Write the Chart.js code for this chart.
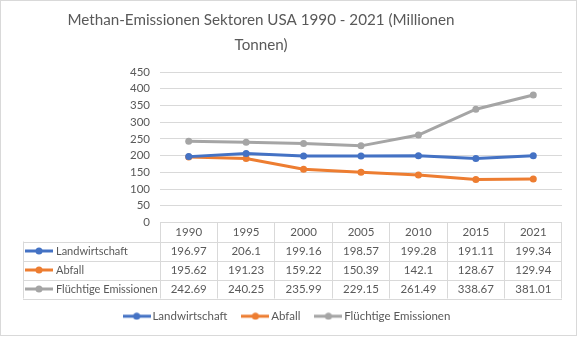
<!DOCTYPE html>
<html lang="de">
<head>
<meta charset="UTF-8">
<title>Methan-Emissionen Sektoren USA 1990 - 2021</title>
<script src="https://cdn.jsdelivr.net/npm/chart.js"></script>
<style>
    body {
        margin: 0;
        background-color: #fff;
    }
</style>
</head>
<body>
<canvas id="methanChart" width="577" height="340"></canvas>
<script>
    const years = ['1990', '1995', '2000', '2005', '2010', '2015', '2021'];
    const landwirtschaft = [196.97, 206.1, 199.16, 198.57, 199.28, 191.11, 199.34];
    const abfall = [195.62, 191.23, 159.22, 150.39, 142.1, 128.67, 129.94];
    const fluechtige = [242.69, 240.25, 235.99, 229.15, 261.49, 338.67, 381.01];
    const seriesNames = ['Landwirtschaft', 'Abfall', 'Flüchtige Emissionen'];
    const seriesColors = ['#4472C4', '#ED7D31', '#A5A5A5'];
    const titleLines = ['Methan-Emissionen Sektoren USA 1990 - 2021 (Millionen', 'Tonnen)'];

    const textColor = '#595959';
    const lineColor = '#d9d9d9';
    const numberFont = '11.5px Lato';
    const nameFont = '11px Lato';
    const seriesValues = [landwirtschaft, abfall, fluechtige];

    // small "line with dot" symbol used in the legend and the table
    function lineMarker(color) {
        const c = document.createElement('canvas');
        c.width = 28;
        c.height = 8;
        const g = c.getContext('2d');
        g.strokeStyle = color;
        g.lineWidth = 3;
        g.beginPath();
        g.moveTo(0, 4);
        g.lineTo(28, 4);
        g.stroke();
        g.fillStyle = color;
        g.beginPath();
        g.arc(14, 4, 3.5, 0, Math.PI * 2);
        g.fill();
        return c;
    }
    const markers = seriesColors.map(lineMarker);

    // title, outer frame and the data table under the x axis
    const tablePlugin = {
        id: 'dataTable',
        afterDraw(chart) {
            const { ctx, chartArea, scales: { x } } = chart;
            const top = chartArea.bottom;
            const rowH = 19;
            const labelLeft = 23;
            ctx.save();

            ctx.strokeStyle = lineColor;
            ctx.lineWidth = 1;
            for (let r = 1; r <= 4; r++) {
                const y = Math.round(top + r * rowH) + 0.5;
                ctx.beginPath();
                ctx.moveTo(labelLeft, y);
                ctx.lineTo(chartArea.right, y);
                ctx.stroke();
            }
            ctx.beginPath();
            ctx.moveTo(labelLeft + 0.5, top + rowH);
            ctx.lineTo(labelLeft + 0.5, top + 4 * rowH);
            ctx.stroke();
            ctx.strokeRect(0.5, 0.5, chart.width - 1, 335);

            ctx.fillStyle = textColor;
            ctx.textBaseline = 'middle';
            ctx.font = numberFont;
            ctx.textAlign = 'center';
            years.forEach((yr, i) => {
                const cx = x.getPixelForValue(i);
                ctx.fillText(yr, cx, top + rowH / 2 + 0.5);
                seriesValues.forEach((vals, r) => {
                    ctx.fillText(String(vals[i]), cx, top + (r + 1.5) * rowH + 0.5);
                });
            });
            ctx.font = nameFont;
            ctx.textAlign = 'left';
            seriesNames.forEach((name, r) => {
                const cy = top + (r + 1.5) * rowH;
                ctx.drawImage(markers[r], labelLeft + 2, Math.round(cy) - 4);
                ctx.fillText(name, labelLeft + 33, cy + 0.5);
            });

            ctx.font = '15.2px Lato';
            ctx.textAlign = 'center';
            titleLines.forEach((line, i) => ctx.fillText(line, 261, 20 + i * 25));
            ctx.restore();
        }
    };

    new Chart(document.getElementById('methanChart'), {
        type: 'line',
        data: {
            labels: years,
            datasets: seriesNames.map((name, i) => ({
                label: name,
                data: seriesValues[i],
                borderColor: seriesColors[i],
                backgroundColor: seriesColors[i],
                borderWidth: 3,
                pointRadius: 3.5,
                pointBorderWidth: 0,
                tension: 0
            }))
        },
        options: {
            responsive: false,
            animation: false,
            layout: { padding: { top: 72, left: 15, right: 15, bottom: 8 } },
            scales: {
                x: {
                    offset: true,
                    grid: { offset: true, drawOnChartArea: false, color: lineColor, tickLength: 76 },
                    border: { display: false },
                    ticks: { display: false },
                    afterFit(scale) { scale.height = 70; }
                },
                y: {
                    min: 0,
                    max: 450,
                    ticks: {
                        stepSize: 50,
                        autoSkip: false,
                        color: textColor,
                        font: { family: 'Lato', size: 11.5 },
                        padding: 10
                    },
                    grid: { color: lineColor, drawTicks: false },
                    border: { display: false },
                    afterFit(scale) { scale.width = 145; }
                }
            },
            plugins: {
                title: { display: false },
                tooltip: { enabled: false },
                legend: {
                    position: 'bottom',
                    labels: {
                        usePointStyle: true,
                        pointStyleWidth: 20,
                        padding: 18,
                        color: textColor,
                        font: { family: 'Lato', size: 11.5 },
                        generateLabels(chart) {
                            const items = Chart.defaults.plugins.legend.labels.generateLabels(chart);
                            items.forEach((item, i) => { item.pointStyle = markers[i]; });
                            return items;
                        }
                    }
                }
            }
        },
        plugins: [tablePlugin]
    });
</script>
</body>
</html>
